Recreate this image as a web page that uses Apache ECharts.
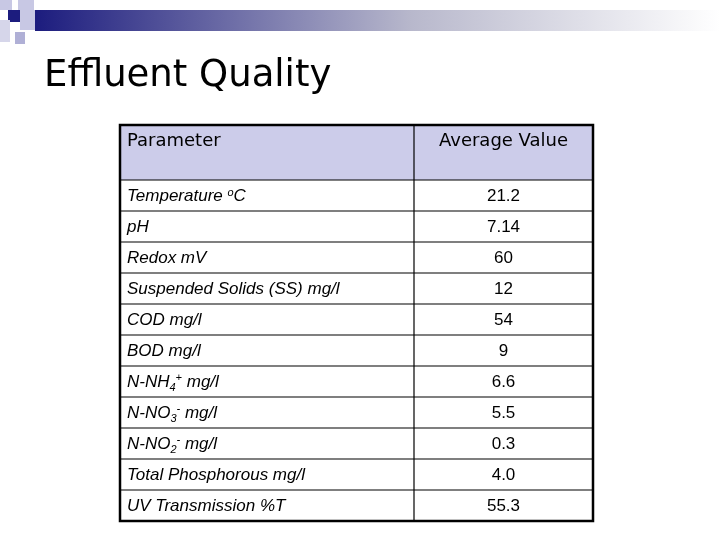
<!DOCTYPE html>
<html>
<head>
<meta charset="utf-8">
<script src="https://cdn.jsdelivr.net/npm/echarts@6/dist/echarts.min.js"></script>
<style>html,body{margin:0;padding:0;background:#fff}#main{width:720px;height:540px}</style>
</head>
<body>
<div id="main"></div>
<script>
const title = 'Effluent Quality'
const headers = ['Parameter', 'Average Value']
// rich text markup for sub/superscripts
const parameters = [
  'Temperature {sup|o}C',
  'pH',
  'Redox mV',
  'Suspended Solids (SS) mg/l',
  'COD mg/l',
  'BOD mg/l',
  'N-NH{sub|4}{sup|+} mg/l',
  'N-NO{sub|3}{sup|-} mg/l',
  'N-NO{sub|2}{sup|-} mg/l',
  'Total Phosphorous mg/l',
  'UV Transmission %T'
]
const values = ['21.2', '7.14', '60', '12', '54', '9', '6.6', '5.5', '0.3', '4.0', '55.3']

const chart = echarts.init(document.getElementById('main'))

const tLeft = 120, tRight = 593, tMid = 414
const tTop = 125, headH = 55, rowH = 31
const cellFont = {fontFamily: 'Liberation Sans', fontSize: 17, fontStyle: 'italic', fill: '#000'}

const els = []
// decoration
els.push({type: 'rect', shape: {x: 35, y: 10, width: 685, height: 21},
  style: {fill: new echarts.graphic.LinearGradient(0, 0, 1, 0, [
    {offset: 0, color: '#1c1c7e'}, {offset: 0.55, color: '#b8b8cc'}, {offset: 1, color: '#ffffff'}])}})
const squares = [[0, 0, 12, 10, '#c8c8e4'], [18, 0, 16, 10, '#c8c8e4'], [8, 10, 12, 12, '#1c1c7e'],
  [20, 10, 15, 20, '#c8c8e4'], [0, 20, 10, 22, '#d6d6ea'], [15, 32, 10, 12, '#b0b0d6']]
squares.forEach(s => els.push({type: 'rect', shape: {x: s[0], y: s[1], width: s[2], height: s[3]}, style: {fill: s[4]}}))
els.push({type: 'text', x: 44, y: 58, style: {text: title, fontFamily: 'DejaVu Sans', fontSize: 37, fill: '#000'}})

// header
const tableBottom = tTop + headH + rowH * parameters.length
els.push({type: 'rect', shape: {x: tLeft, y: tTop, width: tRight - tLeft, height: headH}, style: {fill: '#ccccea'}})
els.push({type: 'text', x: tLeft + 7, y: tTop + 7, style: {text: headers[0], fontFamily: 'DejaVu Sans', fontSize: 18, fill: '#000'}})
els.push({type: 'text', x: (tMid + tRight) / 2, y: tTop + 7, style: {text: headers[1], fontFamily: 'DejaVu Sans', fontSize: 18, fill: '#000', align: 'center'}})

parameters.forEach((p, i) => {
  const y = tTop + headH + i * rowH
  els.push({type: 'text', x: tLeft + 7, y: y + rowH / 2 + 1, style: Object.assign({
    text: p, verticalAlign: 'middle',
    rich: {
      sup: {fontSize: 11, fontStyle: 'italic', fontFamily: 'Liberation Sans', verticalAlign: 'top', padding: [0, 0, 8, 0]},
      sub: {fontSize: 11, fontStyle: 'italic', fontFamily: 'Liberation Sans', verticalAlign: 'bottom', padding: [10, 0, 0, 0]}
    }}, cellFont)})
  els.push({type: 'text', x: (tMid + tRight) / 2, y: y + rowH / 2 + 1, style: {text: values[i], fontFamily: 'Liberation Sans', fontSize: 17, fill: '#000', align: 'center', verticalAlign: 'middle'}})
  els.push({type: 'line', shape: {x1: tLeft, y1: y, x2: tRight, y2: y}, style: {stroke: '#000', lineWidth: 1.2}})
})
els.push({type: 'line', shape: {x1: tMid, y1: tTop, x2: tMid, y2: tableBottom}, style: {stroke: '#000', lineWidth: 1.2}})
els.push({type: 'rect', shape: {x: tLeft, y: tTop, width: tRight - tLeft, height: tableBottom - tTop}, style: {fill: 'none', stroke: '#000', lineWidth: 2.5}})

chart.setOption({graphic: {elements: els}})
</script>
</body>
</html>
